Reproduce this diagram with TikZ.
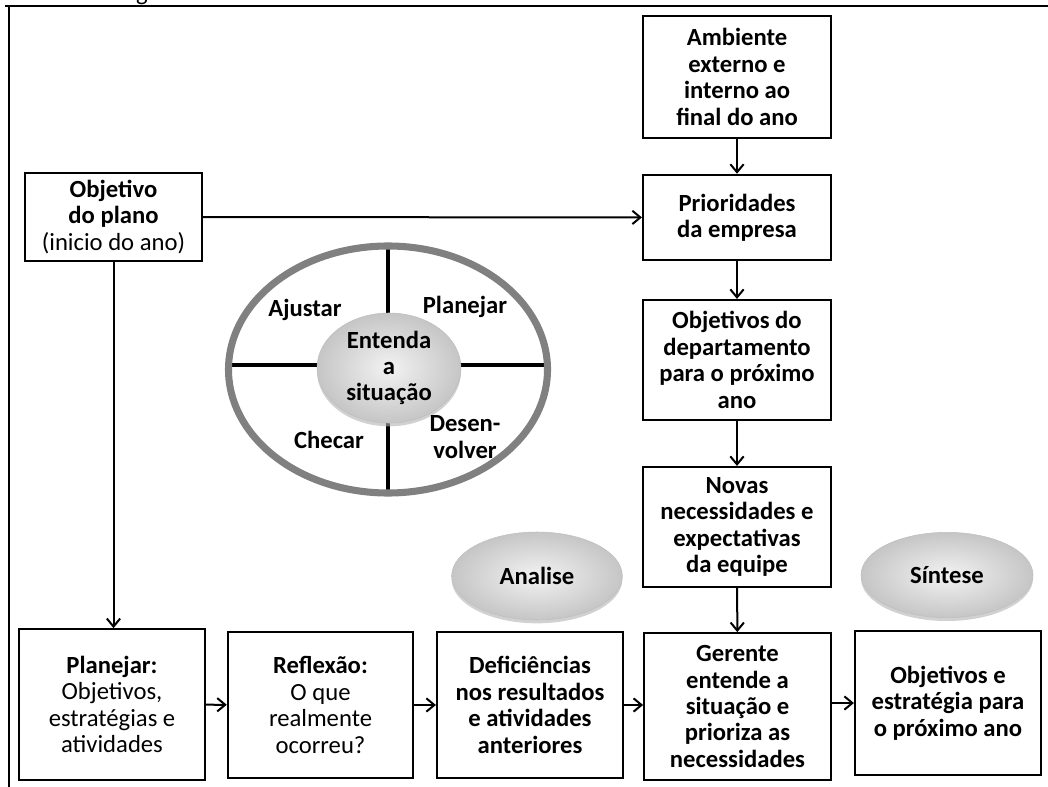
\documentclass[tikz,border=0pt]{standalone}
\usepackage{fontspec}
\setmainfont{Carlito}
\usetikzlibrary{arrows.meta,shadows,shapes.geometric}
\begin{document}
\begin{tikzpicture}[x=0.75pt,y=-0.75pt,
  txt/.style={font=\fontsize{18.5}{19.8}\selectfont, align=center, inner sep=0pt},
  stepbox/.style={txt, draw=black, line width=1.6pt, fill=white,
    minimum width=#1},
  stepbox/.default=141pt,
  flow/.style={line width=1.5pt, -{Straight Barb[length=6pt,width=10pt,line width=1.5pt]}},
  bubble/.style={ellipse, txt, inner color=gray!10, outer color=gray!45,
    draw=gray!50, line width=0.4pt,
    drop shadow={shadow xshift=0pt, shadow yshift=-2.5pt, fill=gray!60, opacity=0.6}},
  cross/.style={line width=2.4pt, black},
]
\useasboundingbox (0,0) rectangle (1048,787);

% frame lines
\draw[line width=1.5pt] (5,6) -- (1048,6);
\draw[line width=1.5pt] (9,6) -- (9,787);
\begin{scope}
  \clip (0,0) rectangle (1048,787);
  \node[txt, anchor=base] (cut) at (142,0.5) {g};
\end{scope}

% right column
\node[stepbox, minimum height=91.5pt] (amb) at (737,77) {\bfseries Ambiente\\\bfseries externo e\\\bfseries interno ao\\\bfseries final do ano};
\node[stepbox, minimum height=64pt] (prio) at (737,217.5) {\bfseries Prioridades\\\bfseries da empresa};
\node[stepbox, minimum height=90pt] (dep) at (737,360) {\bfseries Objetivos do\\\bfseries departamento\\\bfseries para o próximo\\\bfseries ano};
\node[stepbox, minimum height=90pt] (nov) at (737,527) {\bfseries Novas\\\bfseries necessidades e\\\bfseries expectativas\\\bfseries da equipe};

% left box
\node[stepbox=133pt, minimum height=66pt] (obj) at (113.5,217) {\bfseries Objetivo\\\bfseries do plano\\(inicio do ano)};

% bottom row
\node[stepbox=139.5pt, minimum height=113pt] (plan) at (112,704.5) {\bfseries Planejar:\\Objetivos,\\estratégias e\\atividades};
\node[stepbox=139pt, minimum height=109.5pt] (refl) at (320.5,705) {\bfseries Reflexão:\\O que\\realmente\\ocorreu?};
\node[stepbox=139.5pt, minimum height=109.5pt] (def) at (530,705) {\bfseries Deficiências\\\bfseries nos resultados\\\bfseries e atividades\\\bfseries anteriores};
\node[stepbox=140pt, minimum height=110pt] (ger) at (737.5,706.5) {\bfseries Gerente\\\bfseries entende a\\\bfseries situação e\\\bfseries prioriza as\\\bfseries necessidades};
\node[stepbox=139.5pt, minimum height=108pt] (fin) at (948,703) {\bfseries Objetivos e\\\bfseries estratégia para\\\bfseries o próximo ano};

% phase bubbles
\node[bubble, minimum width=128pt, minimum height=66pt] (ana) at (537,576) {\bfseries Analise};
\node[bubble, minimum width=129pt, minimum height=64pt] (sin) at (947,575) {\bfseries Síntese};

% PDCA wheel
\coordinate (wc) at (388,369.5);
\coordinate (vt) at (388,247);
\coordinate (vb) at (388,492);
\coordinate (hl) at (229,365);
\coordinate (hr) at (547,365);
\draw[cross] (vt) -- (vb);
\draw[cross] (hl) -- (hr);
\draw[line width=5.3pt, draw={rgb,255:red,128;green,128;blue,128}] (wc) ellipse [x radius=159.5, y radius=123.5];
\node[bubble, minimum width=108pt, minimum height=82.5pt] (ent) at (389,368) {\bfseries Entenda\\\bfseries a\\\bfseries situação};
\node[txt] (aju) at (305,310) {\bfseries Ajustar};
\node[txt] (pla) at (465,307) {\bfseries Planejar};
\node[txt] (che) at (329,440) {\bfseries Checar};
\node[txt] (des) at (465,437) {\bfseries Desen-\\\bfseries volver};

% connectors
\draw[flow] (amb) -- (prio);
\draw[flow] (prio) -- (dep);
\draw[flow] (dep) -- (nov);
\draw[flow] (nov) -- (ger);
\draw[flow] (obj) -- (prio);
\draw[flow] (obj.south) -- (obj.south |- plan.north);
\draw[flow] (plan) -- (refl);
\draw[flow] (refl) -- (def);
\draw[flow] (def) -- (def -| ger.west);
\draw[flow] (ger.east |- fin) -- (fin);
\end{tikzpicture}
\end{document}
